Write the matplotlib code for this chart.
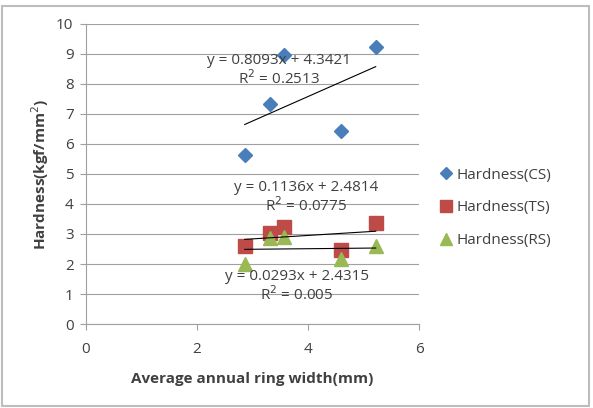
import numpy as np
import matplotlib
matplotlib.use("Agg")
import matplotlib.pyplot as plt
from matplotlib.patches import Rectangle

# ring width (mm) and hardness values
ring_width = [2.86, 3.31, 3.57, 4.60, 5.22]
hardness_cs = [5.63, 7.33, 8.95, 6.42, 9.22]
hardness_ts = [2.60, 3.05, 3.22, 2.47, 3.37]
hardness_rs = [2.00, 2.87, 2.90, 2.17, 2.60]

series_names = ['Hardness(CS)', 'Hardness(TS)', 'Hardness(RS)']
eq_labels = ['y = 0.8093x + 4.3421\nR$^2$ = 0.2513',
             'y = 0.1136x + 2.4814\nR$^2$ = 0.0775',
             'y = 0.0293x + 2.4315\nR$^2$ = 0.005']
eq_pos = [(3.48, 8.45), (3.96, 4.23), (3.8, 1.25)]

plt.rcParams['font.family'] = ['Open Sans', 'DejaVu Sans']
fs = 11

fig = plt.figure(figsize=(5.93, 4.08), dpi=100)
fig.patches.append(Rectangle((0.004, 0.005), 0.99, 0.98, transform=fig.transFigure,
                             fill=False, edgecolor='#bdbdbd', linewidth=1.5))
ax = fig.add_axes([86 / 593, 1 - 324 / 408, (419 - 86) / 593, (324 - 24) / 408])

colors = ['#4A7EBB', '#BE4B48', '#98B954']
markers = ['D', 's', '^']
sizes = [7.5, 10, 10]
for ys, name, c, m, s in zip([hardness_cs, hardness_ts, hardness_rs], series_names,
                             colors, markers, sizes):
    ax.plot(ring_width, ys, linestyle='none', marker=m, markersize=s, color=c,
            label=name, zorder=3)
    k, b = np.polyfit(ring_width, ys, 1)
    xs = np.array([min(ring_width), max(ring_width)])
    ax.plot(xs, k * xs + b, color='black', linewidth=0.8, zorder=4)

for txt, (x, y) in zip(eq_labels, eq_pos):
    ax.text(x, y, txt, ha='center', va='center', fontsize=fs, color='#404040',
            linespacing=1.1, zorder=5)

ax.set_xlim(0, 6)
ax.set_ylim(0, 10)
ax.set_xticks([0, 2, 4, 6])
ax.set_yticks(range(0, 11))
ax.grid(axis='y', color='#a0a0a0', linewidth=0.8)
ax.set_axisbelow(True)
for side in ['top', 'right']:
    ax.spines[side].set_visible(False)
for side in ['left', 'bottom']:
    ax.spines[side].set_color('#a0a0a0')
ax.tick_params(colors='#404040', labelsize=fs, length=4, color='#a0a0a0', pad=5)
ax.tick_params(axis='x', pad=9)
ax.set_xlabel('Average annual ring width(mm)', fontsize=fs, fontweight='bold',
              color='#404040', labelpad=11)
ax.set_ylabel('Hardness(kgf/mm$^2$)', fontsize=fs, fontweight='bold',
              color='#404040', labelpad=4)

ax.legend(loc='center left', bbox_to_anchor=(1.02, 0.387), frameon=False,
          fontsize=fs, handletextpad=0.3, handlelength=0.8, labelspacing=1.15,
          labelcolor='#404040', markerscale=0.8)

fig.savefig('out.png', dpi=100)
